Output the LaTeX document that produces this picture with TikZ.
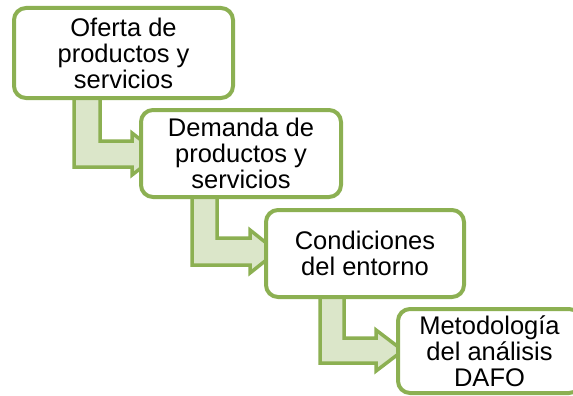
\documentclass[tikz,border=0pt]{standalone}
\usepackage{fontspec}
\setmainfont{Liberation Sans}
\usetikzlibrary{backgrounds,calc}
\definecolor{gstroke}{RGB}{140,176,82}
\definecolor{gfill}{RGB}{219,230,201}
\tikzset{
  stepbox/.style={draw=gstroke, line width=4pt, fill=white, rounded corners=12pt,
    align=center, inner sep=0pt,
    font=\fontsize{25.5}{26}\selectfont},
  conn/.style={draw=gstroke, fill=gfill, line width=3.5pt, line join=miter},
}
% #1 from, #2 to, #3 left x off, #4 right x off, #5 top y off, #6 bottom y off, #7 head gap
\newcommand{\bentconn}[7]{%
  \path[conn] let \p1=(#1.south west), \p2=(#2.north west) in
    (\x1+#3pt, \y1+8pt) -- (\x1+#3pt, \y2-#6pt) -- (\x2-#7pt, \y2-#6pt)
    -- (\x2-#7pt, \y2-#6pt-8pt) -- (\x2-#7pt+27pt, \y2-#5pt/2-#6pt/2)
    -- (\x2-#7pt, \y2-#5pt+8pt) -- (\x2-#7pt, \y2-#5pt)
    -- (\x1+#4pt, \y2-#5pt) -- (\x1+#4pt, \y1+8pt) -- cycle;}
\begin{document}
\begin{tikzpicture}[x=1pt,y=-1pt]
\useasboundingbox (0,0) rectangle (573,396);
\node[stepbox, minimum width=219pt, minimum height=90pt] (b1) at (123.5,53) {Oferta de\\productos y\\servicios};
\node[stepbox, minimum width=200pt, minimum height=87pt] (b2) at (241,153.5) {Demanda de\\productos y\\servicios};
\node[stepbox, minimum width=198pt, minimum height=87pt] (b3) at (365,253.5) {Condiciones\\del entorno};
\node[stepbox, minimum width=183pt, minimum height=84pt] (b4) at (489.5,351) {Metodología\\del análisis\\DAFO};
\begin{pgfonlayer}{background}
\fill[white] (0,0) rectangle (573,396);
\bentconn{b1}{b2}{62}{88}{33}{59}{7}
\bentconn{b2}{b3}{53}{78}{30}{57}{14}
\bentconn{b3}{b4}{56}{80}{31}{56}{20}
\end{pgfonlayer}
\end{tikzpicture}
\end{document}
